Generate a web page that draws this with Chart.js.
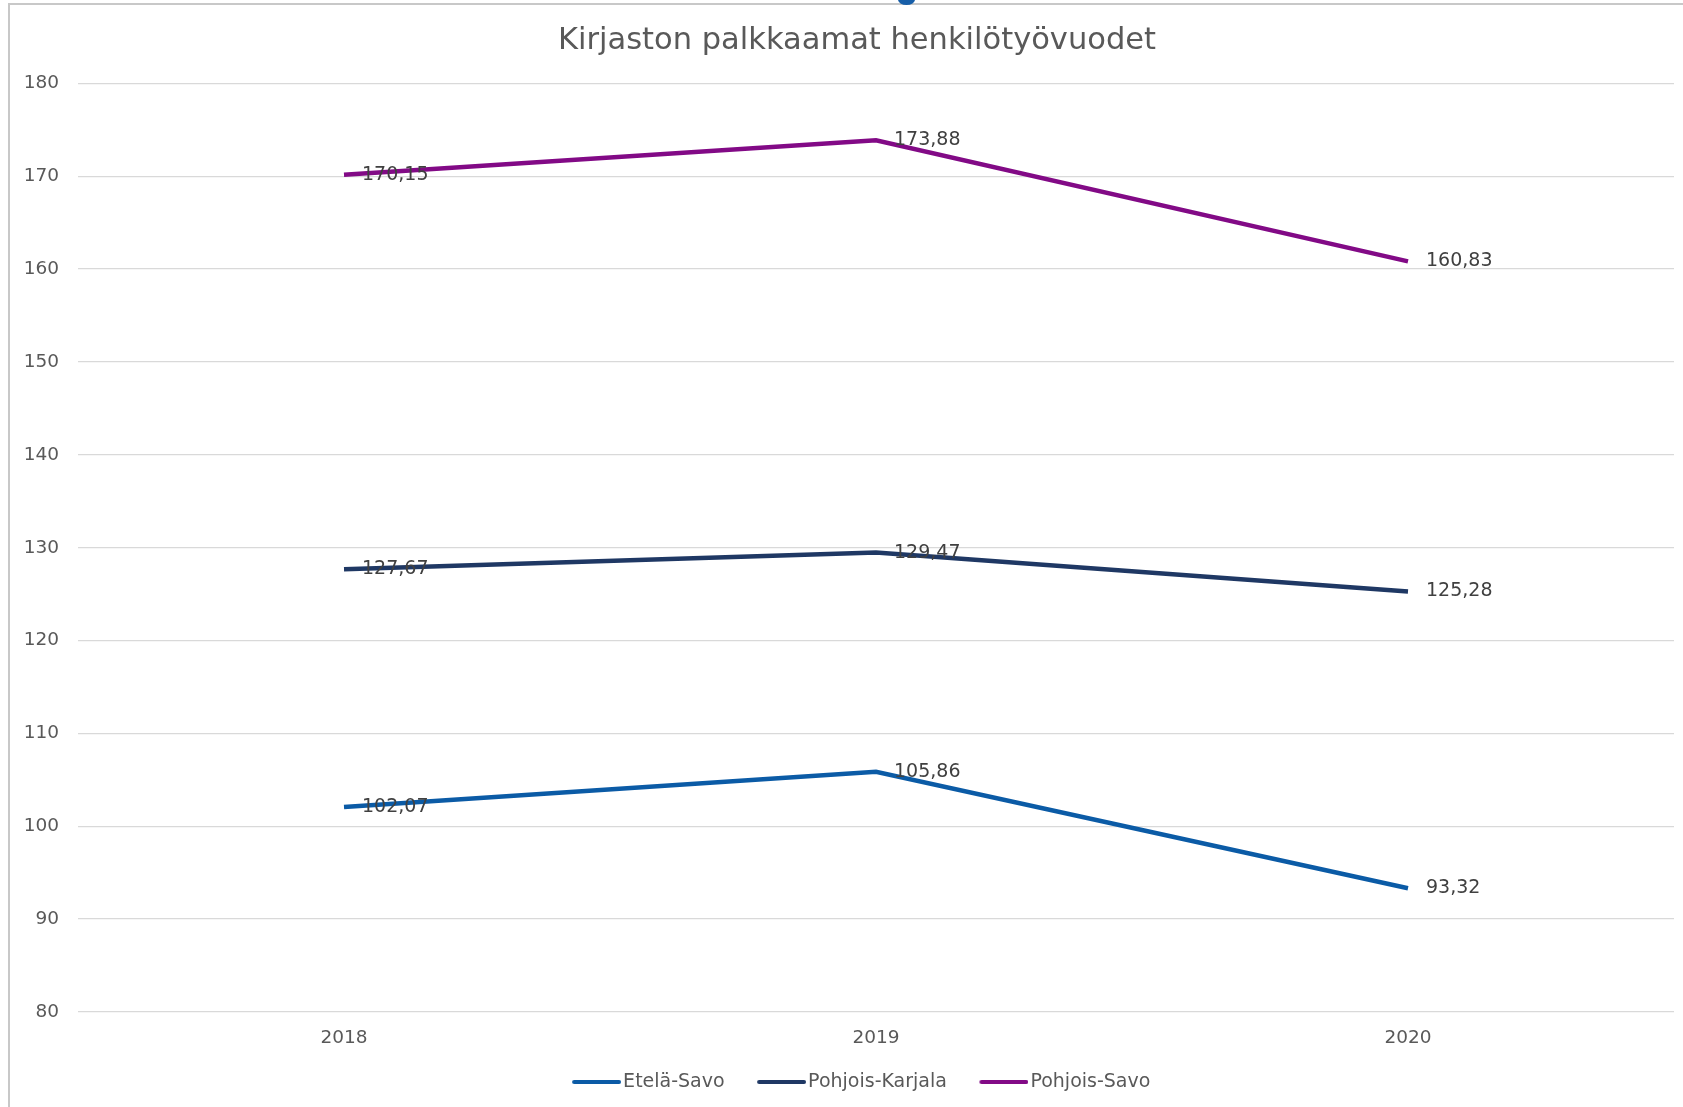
<!DOCTYPE html>
<html>
<head>
<meta charset="utf-8">
<script src="https://cdn.jsdelivr.net/npm/chart.js@4.4.1/dist/chart.umd.min.js"></script>
<style>
    html, body { margin: 0; padding: 0; background: #fff; overflow: hidden; width: 1683px; height: 1107px; }
    #frame { position: absolute; left: 8px; top: 3px; width: 1760px; height: 1200px; border-left: 2px solid #c8c8c8; border-top: 2px solid #c8c8c8; }
    #wrap { position: absolute; left: 0; top: 0; width: 1694px; height: 1106px; }
    #blob { position: absolute; left: 898px; top: -6px; width: 17px; height: 11px; border-radius: 50%; background: #175ea8; }
</style>
</head>
<body>
<div id="frame"><div id="wrap"><canvas id="chart"></canvas></div></div>
<div id="blob"></div>
<script>
// --- DATA ---
const years = ['2018', '2019', '2020'];
const seriesNames = ['Etelä-Savo', 'Pohjois-Karjala', 'Pohjois-Savo'];
const eteläSavo = [102.07, 105.86, 93.32];
const pohjoisKarjala = [127.67, 129.47, 125.28];
const pohjoisSavo = [170.15, 173.88, 160.83];
const yTicks = [80, 90, 100, 110, 120, 130, 140, 150, 160, 170, 180];

const colors = ['#0b5ba6', '#1f3864', '#820a86'];
const FONT = "'DejaVu Sans', Verdana, sans-serif";
const LEGEND_BOX = 50;

// selitteen viiva: kuva jonka oikea reuna osuu melkein tekstiin kiinni
function legendLine(color) {
    const c = document.createElement('canvas');
    c.width = LEGEND_BOX + 15;
    c.height = 6;
    const g = c.getContext('2d');
    g.strokeStyle = color;
    g.lineWidth = 4;
    g.lineCap = 'round';
    g.beginPath();
    g.moveTo(c.width - 47, 3);
    g.lineTo(c.width - 2, 3);
    g.stroke();
    return c;
}

// arvot pisteiden oikealle puolelle, pilkku desimaalierottimena
const valueLabels = {
    id: 'valueLabels',
    afterDatasetsDraw(chart) {
        const ctx = chart.ctx;
        ctx.save();
        ctx.font = `19px ${FONT}`;
        ctx.fillStyle = '#404040';
        ctx.textAlign = 'left';
        ctx.textBaseline = 'middle';
        chart.data.datasets.forEach((ds, i) => {
            chart.getDatasetMeta(i).data.forEach((pt, j) => {
                ctx.fillText(ds.data[j].toFixed(2).replace('.', ','), pt.x + 18, pt.y);
            });
        });
        ctx.restore();
    }
};

const datasets = [eteläSavo, pohjoisKarjala, pohjoisSavo].map((values, i) => ({
    label: seriesNames[i],
    data: values,
    borderColor: colors[i],
    backgroundColor: colors[i],
    borderWidth: 4.5,
    pointRadius: 0,
    pointStyle: legendLine(colors[i]),
    tension: 0,
    fill: false
}));

new Chart(document.getElementById('chart'), {
    type: 'line',
    data: { labels: years, datasets: datasets },
    options: {
        responsive: true,
        maintainAspectRatio: false,
        animation: false,
        layout: { padding: { left: 0, right: 0, top: 0, bottom: 9.5 } },
        plugins: {
            title: {
                display: true,
                text: 'Kirjaston palkkaamat henkilötyövuodet',
                color: '#595959',
                font: { family: FONT, size: 30.5, weight: 'normal' },
                padding: { top: 18, bottom: 23.8 }
            },
            legend: {
                position: 'bottom',
                labels: {
                    usePointStyle: true,
                    pointStyleWidth: LEGEND_BOX,
                    color: '#595959',
                    padding: 24,
                    font: { family: FONT, size: 19 }
                }
            },
            tooltip: { enabled: false }
        },
        scales: {
            x: {
                offset: true,
                afterFit: scale => { scale.height = 36.5; },
                grid: { display: false, drawTicks: false },
                border: { display: false },
                ticks: { color: '#595959', padding: 15, font: { family: FONT, size: 18.5 } }
            },
            y: {
                min: 80,
                max: 180,
                afterFit: scale => { scale.width = 68; },
                afterBuildTicks: scale => { scale.ticks = yTicks.map(v => ({ value: v })); },
                grid: { color: '#d9d9d9', lineWidth: 1.3, drawTicks: false },
                border: { display: false },
                ticks: { color: '#595959', padding: 19, font: { family: FONT, size: 18.5 } }
            },
            // tyhjä tila oikealla, jotta otsikko ja selite keskittyvät kuten alkuperäisessä
            yRight: {
                position: 'right',
                min: 80,
                max: 180,
                afterFit: scale => { scale.width = 30; },
                grid: { display: false, drawTicks: false },
                border: { display: false },
                ticks: { display: false }
            }
        }
    },
    plugins: [valueLabels]
});
</script>
</body>
</html>
